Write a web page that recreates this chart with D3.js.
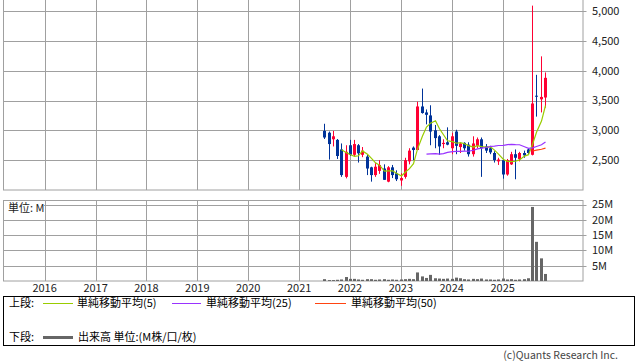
<!DOCTYPE html>
<html>
<head>
<meta charset="utf-8">
<script src="https://cdn.jsdelivr.net/npm/d3@7"></script>
<style>
  body { margin: 0; background: #fff; }
  svg { display: block; font-family: "Noto Sans CJK JP", "DejaVu Sans", sans-serif; }
</style>
</head>
<body>
<svg id="chart" width="638" height="362"></svg>
<script>
// monthly bars, Jun 2021 -> Oct 2025
const months = ["2021-06","2021-07","2021-08","2021-09","2021-10","2021-11","2021-12",
  "2022-01","2022-02","2022-03","2022-04","2022-05","2022-06","2022-07","2022-08","2022-09","2022-10","2022-11","2022-12",
  "2023-01","2023-02","2023-03","2023-04","2023-05","2023-06","2023-07","2023-08","2023-09","2023-10","2023-11","2023-12",
  "2024-01","2024-02","2024-03","2024-04","2024-05","2024-06","2024-07","2024-08","2024-09","2024-10","2024-11","2024-12",
  "2025-01","2025-02","2025-03","2025-04","2025-05","2025-06","2025-07","2025-08","2025-09","2025-10"];
const opens  = [2990,2960,2850,2840,2680,2220,2750, 2590,2750,2590,2560,2380,2250,2320,2360,2140,2380,2280,2160,
  2220,2480,2710,2670,3400,3300,3250,3000,2900,2770,2800,2700, 2980,2720,2790,2760,2600,2740,2850,2730,2700,2620,2480,2500,
  2260,2430,2600,2520,2620,2680,2590,3580,3520,3550];
const highs  = [3110,2980,2990,2855,2780,2750,2840, 2840,2770,2720,2590,2390,2450,2500,2430,2400,2420,2330,2280,
  2540,2700,2730,3480,3700,3350,3420,3090,2920,2850,3050,2960, 3010,2790,2800,2800,2900,2880,2880,2770,2740,2650,2540,2520,
  2520,2640,2680,2640,2660,2700,5090,3930,4240,3970];
const lows   = [2855,2510,2730,2520,2220,2195,2570, 2570,2460,2550,2250,2140,2220,2270,2170,2130,2200,2150,2070,
  2190,2430,2500,2670,3280,3100,2750,2700,2590,2700,2750,2600, 2600,2620,2660,2560,2560,2700,2220,2620,2600,2460,2420,2190,
  2240,2420,2180,2480,2540,2600,2580,3230,3300,3380];
const closes = [2880,2770,2900,2570,2250,2640,2590, 2770,2615,2660,2360,2250,2390,2420,2170,2380,2250,2180,2200,
  2500,2660,2670,3400,3290,3260,2980,2870,2730,2790,2760,2900, 2740,2780,2700,2600,2780,2850,2700,2660,2630,2500,2510,2260,
  2500,2600,2540,2620,2580,2620,3450,3570,3560,3880];
const volumes = [0.6,0.3,0.3,0.4,0.5,1.3,0.7, 0.7,0.5,0.4,0.6,0.6,0.4,0.5,0.6,0.4,0.5,0.4,0.5,
  0.6,0.7,0.6,2.8,1.5,1.0,2.0,0.9,0.8,0.7,0.8,0.7, 1.1,0.9,0.6,0.5,0.7,0.6,0.8,0.5,0.5,0.4,0.5,0.8,
  0.5,0.6,0.4,0.5,0.6,0.9,24.2,12.8,7.4,2.3];

const yearLabels = ["2016","2017","2018","2019","2020","2021","2022","2023","2024","2025"];
const priceTicks = [2500, 3000, 3500, 4000, 4500, 5000];
const volumeTicks = [5, 10, 15, 20, 25];
const maPeriods = [5, 25, 50];
const maColors = ["#99cc00", "#9933ff", "#ff4411"];
const maNames = ["単純移動平均(5)", "単純移動平均(25)", "単純移動平均(50)"];

const svg = d3.select('#chart');
const gridColor = '#a0a0a0';
const upColor = '#ff0033';
const downColor = '#003399';

// panel boxes
const left = 3, right = 582.5;
const top1 = -1, bottom1 = 190;
const top2 = 200.5, bottom2 = 281;

const parse = d3.timeParse('%Y-%m');
// each monthly bar is stamped on the month's last day
const data = months.map((m, i) => {
  const d = parse(m);
  return {
    date: new Date(d.getFullYear(), d.getMonth() + 1, 0),
    open: opens[i], high: highs[i], low: lows[i], close: closes[i], vol: volumes[i]
  };
});

// year gridlines land on Jan 1st
const x = d3.scaleTime()
  .domain([new Date(2016, 0, 1), new Date(2025, 0, 1)])
  .range([44.6, 502.7]);
const y = d3.scaleLinear().domain([2000, 5000]).range([bottom1, 11]);
const yv = d3.scaleLinear().domain([0, 25]).range([bottom2, 204.5]);

const yearDates = yearLabels.map(t => new Date(+t, 0, 1));

function drawFrame(top, bottom, yScale, ticks, fmt) {
  const g = svg.append('g');
  g.selectAll('.hgrid').data(ticks).join('line')
    .attr('x1', left).attr('x2', right + 4)
    .attr('y1', d => Math.round(yScale(d)) + 0.5).attr('y2', d => Math.round(yScale(d)) + 0.5)
    .attr('stroke', gridColor);
  g.selectAll('.vgrid').data(yearDates).join('line')
    .attr('x1', d => Math.round(x(d)) + 0.5).attr('x2', d => Math.round(x(d)) + 0.5)
    .attr('y1', top).attr('y2', bottom)
    .attr('stroke', gridColor);
  g.append('rect')
    .attr('x', left + 0.5).attr('y', top)
    .attr('width', right - left).attr('height', bottom - top)
    .attr('fill', 'none').attr('stroke', gridColor);
  g.selectAll('.lbl').data(ticks).join('text')
    .attr('x', 592).attr('y', d => yScale(d))
    .attr('dy', '0.35em')
    .attr('font-size', 11).attr('fill', '#222')
    .text(fmt);
  return g;
}

drawFrame(top1, bottom1, y, priceTicks, d3.format(','));
drawFrame(top2, bottom2, yv, volumeTicks, d => d + 'M');

// candles
const cw = 3;
const candles = svg.append('g');
data.forEach(d => {
  const col = d.close >= d.open ? upColor : downColor;
  const cx = Math.round(x(d.date));
  candles.append('line')
    .attr('x1', cx + 0.5).attr('x2', cx + 0.5)
    .attr('y1', y(d.high)).attr('y2', y(d.low))
    .attr('stroke', col);
  const yt = y(Math.max(d.open, d.close));
  const yb = y(Math.min(d.open, d.close));
  candles.append('rect')
    .attr('x', cx - 1).attr('width', cw)
    .attr('y', yt).attr('height', Math.max(1, yb - yt))
    .attr('fill', col);
});

// moving averages of the closes
maPeriods.forEach((p, k) => {
  const pts = [];
  for (let i = p - 1; i < data.length; i++) {
    pts.push({ date: data[i].date, v: d3.mean(closes.slice(i - p + 1, i + 1)) });
  }
  svg.append('path')
    .attr('d', d3.line().x(d => Math.round(x(d.date)) + 0.5).y(d => y(d.v))(pts))
    .attr('fill', 'none').attr('stroke', maColors[k]).attr('stroke-width', 1.2);
});

// volume bars
svg.append('g').selectAll('rect').data(data).join('rect')
  .attr('x', d => Math.round(x(d.date)) - 1).attr('width', cw)
  .attr('y', d => yv(d.vol)).attr('height', d => bottom2 - yv(d.vol))
  .attr('fill', '#666');

// unit label sits on a white patch
svg.append('rect').attr('x', 4).attr('y', 201).attr('width', 40).attr('height', 13).attr('fill', '#fff');
svg.append('text').attr('x', 8).attr('y', 208).attr('dy', '0.35em')
  .attr('font-size', 11).attr('fill', '#222').text('単位: M');

// year labels
svg.append('g').selectAll('text').data(yearDates).join('text')
  .attr('x', d => x(d)).attr('y', 288).attr('dy', '0.35em')
  .attr('text-anchor', 'middle').attr('font-size', 11).attr('fill', '#222')
  .text((d, i) => yearLabels[i]);

// legend box
const lg = svg.append('g');
lg.append('rect').attr('x', 3.5).attr('y', 296.5).attr('width', 631).attr('height', 49)
  .attr('fill', 'none').attr('stroke', '#000');
lg.append('text').attr('x', 9).attr('y', 303).attr('dy', '0.35em').attr('font-size', 11).text('上段:');
const legX = [[43, 73, 77], [172, 201, 206], [315, 346, 351]];
maNames.forEach((n, k) => {
  lg.append('line').attr('x1', legX[k][0]).attr('x2', legX[k][1]).attr('y1', 303.5).attr('y2', 303.5)
    .attr('stroke', maColors[k]);
  lg.append('text').attr('x', legX[k][2]).attr('y', 303).attr('dy', '0.35em').attr('font-size', 11).text(n);
});
lg.append('text').attr('x', 9).attr('y', 337).attr('dy', '0.35em').attr('font-size', 11).text('下段:');
lg.append('line').attr('x1', 43).attr('x2', 73).attr('y1', 337.5).attr('y2', 337.5)
  .attr('stroke', '#666').attr('stroke-width', 3);
lg.append('text').attr('x', 78).attr('y', 337).attr('dy', '0.35em').attr('font-size', 11).text('出来高 単位:(M株/口/枚)');

svg.append('text').attr('x', 618).attr('y', 355).attr('dy', '0.35em')
  .attr('text-anchor', 'end').attr('font-size', 10.5).attr('fill', '#444')
  .text('(c)Quants Research Inc.');
</script>
</body>
</html>
